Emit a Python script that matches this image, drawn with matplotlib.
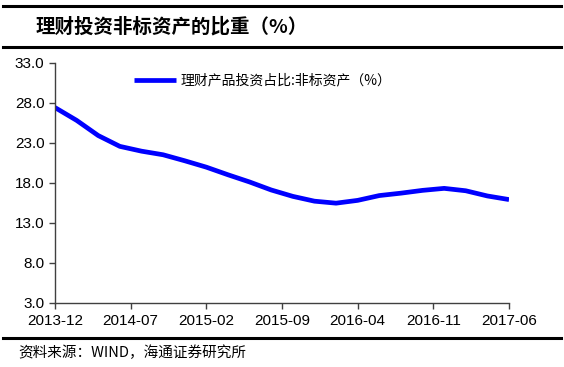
import pandas as pd
import matplotlib.pyplot as plt
from matplotlib.lines import Line2D

# bimonthly readings of the share of non-standard assets (%)
dates = ['2013-12', '2014-02', '2014-04', '2014-06', '2014-08', '2014-10',
         '2014-12', '2015-02', '2015-04', '2015-06', '2015-08', '2015-10',
         '2015-12', '2016-02', '2016-04', '2016-06', '2016-08', '2016-10',
         '2016-12', '2017-02', '2017-04', '2017-06']
share = [27.4, 25.8, 23.9, 22.55, 21.95, 21.5, 20.75, 19.95, 19.0, 18.1,
         17.1, 16.3, 15.7, 15.45, 15.8, 16.4, 16.7, 17.05, 17.3, 17.0,
         16.35, 15.9]
xtick_labels = ['2013-12', '2014-07', '2015-02', '2015-09', '2016-04',
                '2016-11', '2017-06']
yticks = [3, 8, 13, 18, 23, 28, 33]

title = '理财投资非标资产的比重（%）'
series_name = '理财产品投资占比:非标资产（%）'
source = '资料来源：WIND，海通证券研究所'

start = pd.Period(dates[0], freq='M')
months = [(pd.Period(d, freq='M') - start).n for d in dates]
tick_pos = [(pd.Period(d, freq='M') - start).n for d in xtick_labels]

cjk = ['Noto Sans CJK SC', 'DejaVu Sans']
plt.rcParams['font.family'] = ['Liberation Sans', 'DejaVu Sans']

fig = plt.figure(figsize=(5.64, 3.67), dpi=100)
ax = fig.add_axes([0.0975, 0.175, 0.805, 0.654])

ax.plot(months, share, color='#0000ff', lw=3.4, solid_capstyle='butt',
        solid_joinstyle='round', label=series_name)

ax.set_xlim(0, 42)
ax.set_ylim(3, 33)
ax.set_xticks(tick_pos)
ax.set_xticklabels(xtick_labels)
ax.set_yticks(yticks)
ax.set_yticklabels([f'{v:.1f}' for v in yticks])
ax.tick_params(labelsize=11, colors='#404040', labelcolor='black',
               length=4, width=1)
ax.tick_params(axis='x', pad=4)
for s in ['top', 'right']:
    ax.spines[s].set_visible(False)
for s in ['left', 'bottom']:
    ax.spines[s].set_color('#404040')
    ax.spines[s].set_linewidth(1)

leg = ax.legend(loc='center left', bbox_to_anchor=(0.175, 0.925),
                frameon=False, handlelength=3, handletextpad=0.3,
                borderaxespad=0, borderpad=0,
                prop={'family': cjk, 'size': 10})

# header / footer rules and texts
for y in [0.985, 0.872, 0.079]:
    fig.add_artist(Line2D([0.006, 0.994], [y, y], color='black', lw=2.2,
                          transform=fig.transFigure))
fig.text(0.063, 0.927, title, family=cjk, weight='bold', fontsize=14,
         va='center', ha='left')
fig.text(0.032, 0.038, source, family=cjk, fontsize=10.5,
         va='center', ha='left')

fig.savefig('out.png', dpi=100)
